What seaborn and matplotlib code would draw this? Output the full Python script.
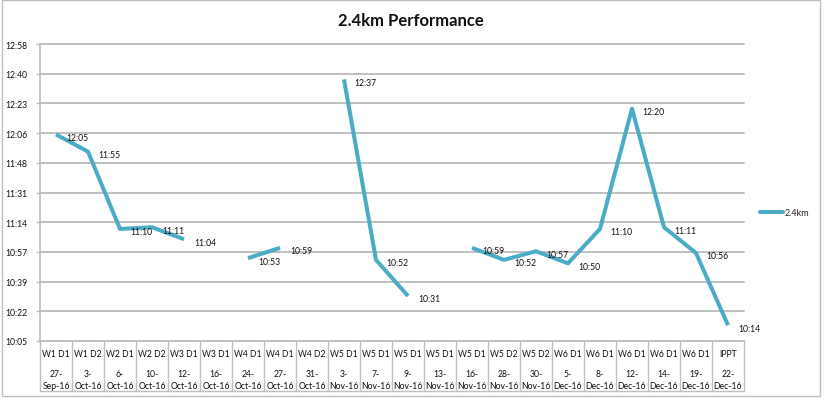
import numpy as np
import pandas as pd
import seaborn as sns
import matplotlib
matplotlib.use("Agg")
import matplotlib.pyplot as plt
import matplotlib.transforms as mtransforms
from matplotlib.lines import Line2D
from matplotlib.patches import Rectangle

# ---------------- data ----------------
sessions = ["W1 D1", "W1 D2", "W2 D1", "W2 D2", "W3 D1", "W3 D1", "W4 D1", "W4 D1",
            "W4 D2", "W5 D1", "W5 D1", "W5 D1", "W5 D1", "W5 D1", "W5 D2", "W5 D2",
            "W6 D1", "W6 D1", "W6 D1", "W6 D1", "W6 D1", "IPPT"]
dates = ["27-\nSep-16", "3-\nOct-16", "6-\nOct-16", "10-\nOct-16", "12-\nOct-16",
         "16-\nOct-16", "24-\nOct-16", "27-\nOct-16", "31-\nOct-16", "3-\nNov-16",
         "7-\nNov-16", "9-\nNov-16", "13-\nNov-16", "16-\nNov-16", "28-\nNov-16",
         "30-\nNov-16", "5-\nDec-16", "8-\nDec-16", "12-\nDec-16", "14-\nDec-16",
         "19-\nDec-16", "22-\nDec-16"]
times = ["12:05", "11:55", "11:10", "11:11", "11:04", None, "10:53", "10:59", None,
         "12:37", "10:52", "10:31", None, "10:59", "10:52", "10:57", "10:50", "11:10",
         "12:20", "11:11", "10:56", "10:14"]
ytick_labels = ["10:05", "10:22", "10:39", "10:57", "11:14", "11:31", "11:48",
                "12:06", "12:23", "12:40", "12:58"]
series_name = "2.4km"
title = "2.4km Performance"

# axis scale (Excel: min 0.42 day, major unit 0.012 day, expressed in minutes)
y_min = 0.42 * 1440
y_step = 0.012 * 1440


def to_min(t):
    if t is None:
        return np.nan
    h, m = t.split(":")
    return int(h) * 60 + int(m)


vals = np.array([to_min(t) for t in times], dtype=float)
df = pd.DataFrame({"x": np.arange(len(vals)), "y": vals})
df["seg"] = df["y"].isna().cumsum()
df_plot = df.dropna()

# ---------------- style ----------------
sns.set_theme(style="white")
plt.rcParams["font.family"] = ["Lato", "DejaVu Sans"]

W, H = 826, 402
fig = plt.figure(figsize=(W / 100, H / 100), dpi=100)
fig.patch.set_facecolor("white")

ax_l, ax_r, ax_t, ax_b = 40, 744, 45, 342
ax = fig.add_axes([ax_l / W, 1 - ax_b / H, (ax_r - ax_l) / W, (ax_b - ax_t) / H])

color = "#4BACC6"
grid_c = "#C0C0C0"

sns.lineplot(data=df_plot, x="x", y="y", units="seg", estimator=None, sort=False,
             color=color, linewidth=2.9, ax=ax, legend=False,
             solid_joinstyle="round", solid_capstyle="butt")

yticks = [y_min + i * y_step for i in range(len(ytick_labels))]
ax.set_ylim(yticks[0], yticks[-1])
ax.set_xlim(-0.5, len(sessions) - 0.5)
ax.set_yticks(yticks, labels=ytick_labels)
ax.set_xticks([])
ax.set_xlabel("")
ax.set_ylabel("")
ax.yaxis.grid(True, color=grid_c, linewidth=1.4)
ax.set_axisbelow(True)
for g in ax.get_ygridlines():
    g.set_clip_on(False)
for s in ["top", "right", "bottom"]:
    ax.spines[s].set_visible(False)
ax.spines["left"].set_color(grid_c)
ax.spines["left"].set_linewidth(1.2)
ax.tick_params(axis="y", left=True, length=3, width=1, color=grid_c,
               labelsize=6.2, pad=6, labelcolor="#111111")

# data labels
for i, v in zip(df_plot["x"], df_plot["y"]):
    ax.annotate(times[int(i)], (i, v), xytext=(10, -3), textcoords="offset pixels",
                ha="left", va="center", fontsize=6.2, color="#111111")

# category table below the axis
ph = ax_b - ax_t
tr = mtransforms.blended_transform_factory(ax.transData, ax.transAxes)
table_bottom = -(392 - ax_b) / ph
for k in range(len(sessions) + 1):
    ax.plot([k - 0.5, k - 0.5], [0, table_bottom], transform=tr, clip_on=False,
            color=grid_c, linewidth=1.0)
ax.plot([-0.5, len(sessions) - 0.5], [table_bottom, table_bottom], transform=tr,
        clip_on=False, color=grid_c, linewidth=1.0)
ax.plot([-0.5 - 0.07, -0.5], [0, 0], transform=tr, clip_on=False,
        color=grid_c, linewidth=1.0)
for k, (s, d) in enumerate(zip(sessions, dates)):
    ax.text(k, -(355 - ax_b) / ph, s, transform=tr, ha="center", va="center",
            fontsize=6.2, color="#111111")
    ax.text(k, -(380.5 - ax_b) / ph, d, transform=tr, ha="center", va="center",
            fontsize=6.2, color="#111111", linespacing=1.5)

# legend
ax.legend(handles=[Line2D([], [], color=color, linewidth=2.9)], labels=[series_name],
          loc="center left", bbox_to_anchor=(760 / W, 1 - 214 / H),
          bbox_transform=fig.transFigure, frameon=False, handlelength=2.6,
          handletextpad=0.15, fontsize=6.5, borderaxespad=0, borderpad=0)

# title
fig.text(411 / W, 1 - 21 / H, title, ha="center", va="center", fontsize=12,
         fontweight="bold", color="#111111")

# chart border
fig.add_artist(Rectangle((2 / W, 1 - 397 / H), 818 / W, 396 / H,
                         transform=fig.transFigure, fill=False,
                         edgecolor="#BFBFBF", linewidth=1.0))

fig.savefig("out.png", dpi=100)
